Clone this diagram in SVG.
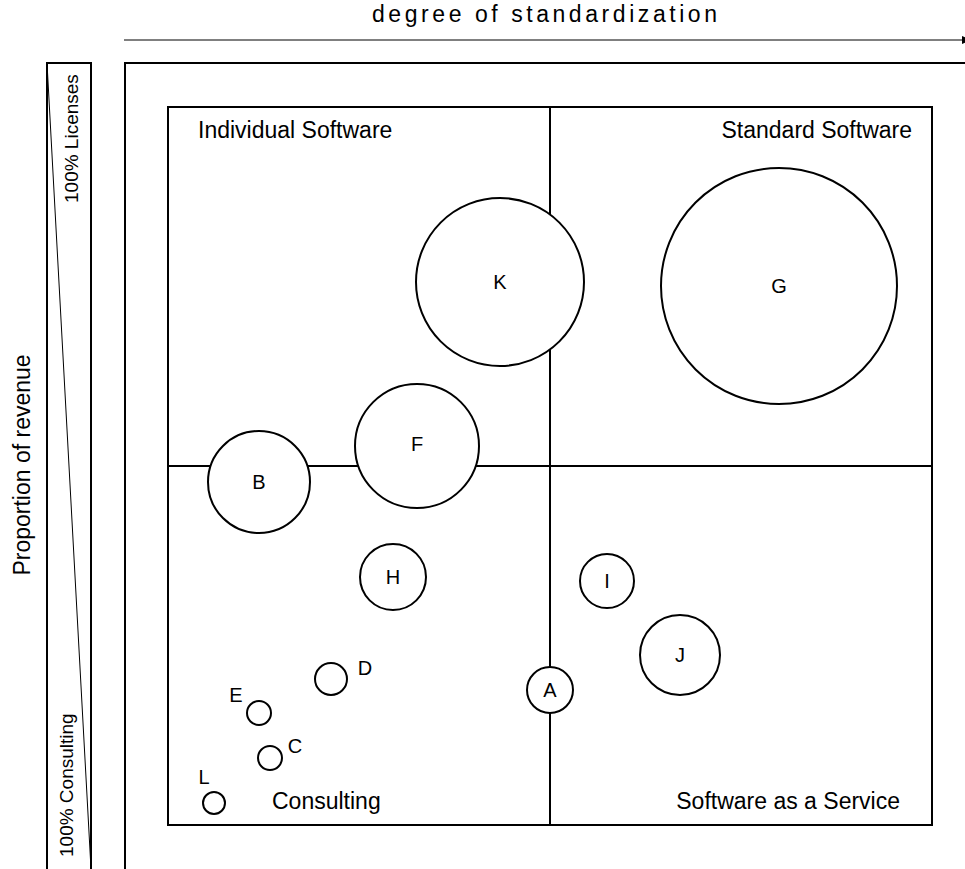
<svg xmlns="http://www.w3.org/2000/svg" width="965" height="869" viewBox="0 0 965 869">
  <style>
    text { font-family: "Liberation Sans", Arial, sans-serif; fill: #000; }
    .lbl { font-size: 23px; }
    .node { fill: #fff; stroke: #000; stroke-width: 2; }
    .nt { font-size: 20px; text-anchor: middle; dominant-baseline: central; }
    .frame { fill: none; stroke: #000; stroke-width: 2; }
    .thin { fill: none; stroke: #000; stroke-width: 1; }
  </style>
  <defs>
    <marker id="arrow" viewBox="0 0 10 10" refX="10" refY="5" markerWidth="10" markerHeight="10" markerUnits="userSpaceOnUse" orient="auto">
      <path d="M0,1 L10,5 L0,9 z" fill="#000"/>
    </marker>
  </defs>

  <!-- horizontal axis -->
  <g id="x-axis">
    <text class="lbl" x="372" y="22" textLength="345" lengthAdjust="spacing">degree of standardization</text>
    <line x1="124" y1="40" x2="972" y2="40" class="thin" marker-end="url(#arrow)"/>
  </g>

  <!-- vertical axis: revenue split bar -->
  <g id="y-axis">
    <text class="lbl" transform="translate(30,465) rotate(-90)" text-anchor="middle">Proportion of revenue</text>
    <rect x="47" y="63" width="44" height="810" class="frame"/>
    <line x1="47" y1="63" x2="91" y2="869" class="thin"/>
    <text font-size="19" transform="translate(78,203) rotate(-90)">100% Licenses</text>
    <text font-size="19" transform="translate(73,857) rotate(-90)">100% Consulting</text>
  </g>

  <!-- outer frame -->
  <rect x="125" y="63" width="900" height="810" class="frame"/>

  <!-- quadrant grid -->
  <g id="quadrants">
    <rect x="168" y="107" width="764" height="718" class="frame"/>
    <line x1="550" y1="107" x2="550" y2="825" class="frame"/>
    <line x1="168" y1="466" x2="932" y2="466" class="frame"/>
    <text class="lbl" x="198" y="138">Individual Software</text>
    <text class="lbl" x="912" y="138" text-anchor="end">Standard Software</text>
    <text class="lbl" x="272" y="809">Consulting</text>
    <text class="lbl" x="900" y="809" text-anchor="end">Software as a Service</text>
  </g>

  <!-- companies -->
  <g id="node-K"><circle cx="500" cy="282" r="84" class="node"/><text class="nt" x="500" y="282">K</text></g>
  <g id="node-G"><circle cx="779" cy="286" r="118" class="node"/><text class="nt" x="779" y="286">G</text></g>
  <g id="node-F"><circle cx="417" cy="446" r="62" class="node"/><text class="nt" x="417" y="444">F</text></g>
  <g id="node-B"><circle cx="259" cy="482" r="51" class="node"/><text class="nt" x="259" y="482">B</text></g>
  <g id="node-H"><circle cx="393" cy="577" r="33" class="node"/><text class="nt" x="393" y="577">H</text></g>
  <g id="node-I"><circle cx="607" cy="581" r="27" class="node"/><text class="nt" x="607" y="581">I</text></g>
  <g id="node-J"><circle cx="680" cy="655" r="40" class="node"/><text class="nt" x="680" y="655">J</text></g>
  <g id="node-A"><circle cx="550" cy="690" r="23" class="node"/><text class="nt" x="550" y="690">A</text></g>
  <g id="node-D"><circle cx="331" cy="679" r="16" class="node"/><text font-size="20" x="365" y="675" text-anchor="middle">D</text></g>
  <g id="node-E"><circle cx="259" cy="713" r="12" class="node"/><text font-size="20" x="236" y="702" text-anchor="middle">E</text></g>
  <g id="node-C"><circle cx="270" cy="758" r="12" class="node"/><text font-size="20" x="295" y="753" text-anchor="middle">C</text></g>
  <g id="node-L"><circle cx="214" cy="803" r="11" class="node"/><text font-size="20" x="204" y="784" text-anchor="middle">L</text></g>
</svg>
